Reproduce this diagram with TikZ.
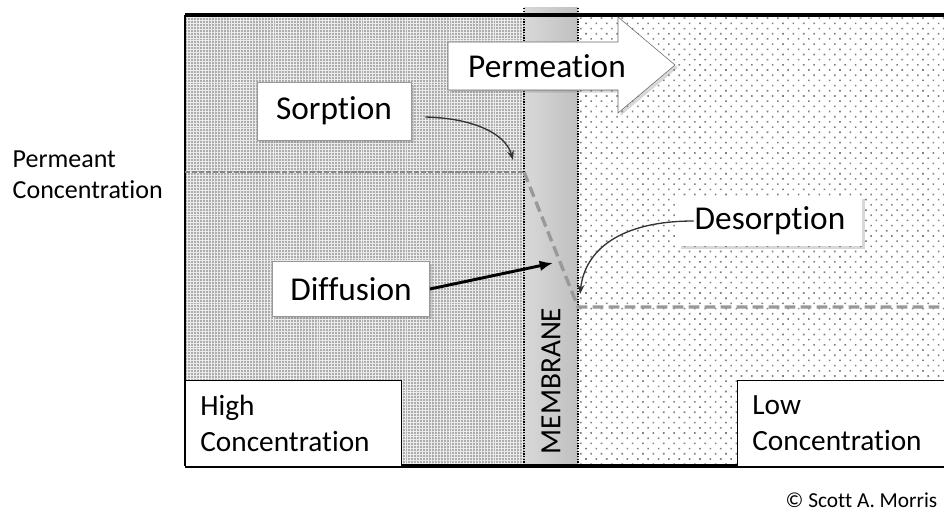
\documentclass[tikz,border=0pt]{standalone}
\usepackage{fontspec}
\setmainfont{Carlito}[Ligatures=CommonOff]
\usetikzlibrary{arrows.meta,patterns.meta,shadows}

\begin{document}
\begin{tikzpicture}[x=0.75pt, y=-0.75pt,
    labelbox/.style={draw=black!40, fill=white, inner sep=0pt, font=\fontsize{25}{30}\selectfont,
      drop shadow={opacity=0.3, shadow xshift=2pt, shadow yshift=-2pt}},
    cornerbox/.style={draw=black, fill=white, line width=1pt, anchor=north west, align=left,
      minimum height=64.5pt, inner xsep=11pt, font=\fontsize{22}{27}\selectfont},
    levelline/.style={gray!95, line width=2.2pt, dash pattern=on 4pt off 1.2pt},
    dropline/.style={gray!80, line width=2.5pt, dash pattern=on 8pt off 4pt}
    ]
    \clip (0,0) rectangle (944,516);
    % regions
    \fill[gray!65] (185,15) rectangle (524,466);
    \fill[pattern={Lines[angle=90, distance=2.2pt, line width=0.45pt]}, pattern color=white!85!gray]
      (185,15) rectangle (524,466);
    \fill[pattern={Lines[angle=0, distance=2.2pt, line width=0.45pt]}, pattern color=white!85!gray]
      (185,15) rectangle (524,466);
    \fill[white] (578,15) rectangle (944,466);
    \fill[pattern={Dots[distance=5.5pt, angle=45, radius=0.85pt]}, pattern color=gray] (578,15) rectangle (944,466);
    \shade[left color=gray!30, middle color=white!95!gray, right color=gray!50] (524,8) rectangle (578,466);
    \draw[densely dotted, line width=1pt] (524,8) -- (524,466);
    \draw[densely dotted, line width=1pt] (578,8) -- (578,466);
    % frame
    \draw[line width=3pt] (185,15) -- (944,15);
    \draw[line width=3pt] (185,466) -- (944,466);
    \draw[line width=1pt] (185,15) -- (185,466);
    % concentration profile
    \coordinate (hiLevel) at (185,172);
    \coordinate (memIn) at (524,172);
    \coordinate (memOut) at (578,307);
    \coordinate (loLevel) at (944,307);
    \draw[levelline] (hiLevel) -- (memIn);
    \draw[dropline] (memIn) -- (memOut) -- (loLevel);
    % permeation arrow
    \draw[fill=white, draw=black!60, drop shadow={opacity=0.3, shadow xshift=2pt, shadow yshift=-2pt}]
      (448,42) -- (618,42) -- (618,17) -- (675,65) -- (618,113) -- (618,90) -- (448,90) -- cycle;
    \node[font=\fontsize{25}{30}\selectfont] (Permeation) at (547,66) {Permeation};
    % labels
    \node[labelbox, minimum width=115.5pt, minimum height=43.5pt] (Sorption) at (334,111) {Sorption};
    \node[labelbox, minimum width=118pt, minimum height=41pt] (Diffusion) at (351,289) {Diffusion};
    \node[labelbox, minimum width=138pt, minimum height=37.5pt, draw=none] (Desorption) at (770,221) {Desorption};
    \node[cornerbox, text width=140pt] (High) at (185,380) {High\\Concentration};
    \node[cornerbox, text width=148pt] (Low) at (737,380) {Low\\Concentration};
    \node[rotate=90, font=\fontsize{22}{26}\selectfont] (Membrane) at (551,381) {MEMBRANE};
    \node[anchor=west, align=left, font=\fontsize{19.5}{23}\selectfont] (Permeant) at (8,175) {Permeant\\Concentration};
    \node[anchor=base west, font=\fontsize{16}{20}\selectfont] (Copyright) at (781,507) {\textcopyright\ Scott A. Morris};
    % arrows
    \coordinate (sorpTip) at (513,160);
    \coordinate (diffTip) at (553,263);
    \coordinate (desorpTip) at (580,294);
    \draw[-{Stealth[length=7pt]}, black!80, line width=1pt]
      ([shift={(14,6)}]Sorption.east) .. controls (470,118) and (505,132) .. (sorpTip);
    \draw[-{Latex[length=10pt, width=8pt]}, line width=2.2pt] (Diffusion.east) -- (diffTip);
    \draw[-{Stealth[length=7pt]}, black!80, line width=1pt]
      ([xshift=12pt]Desorption.west) .. controls (620,221) and (585,250) .. (desorpTip);
  \end{tikzpicture}
\end{document}
